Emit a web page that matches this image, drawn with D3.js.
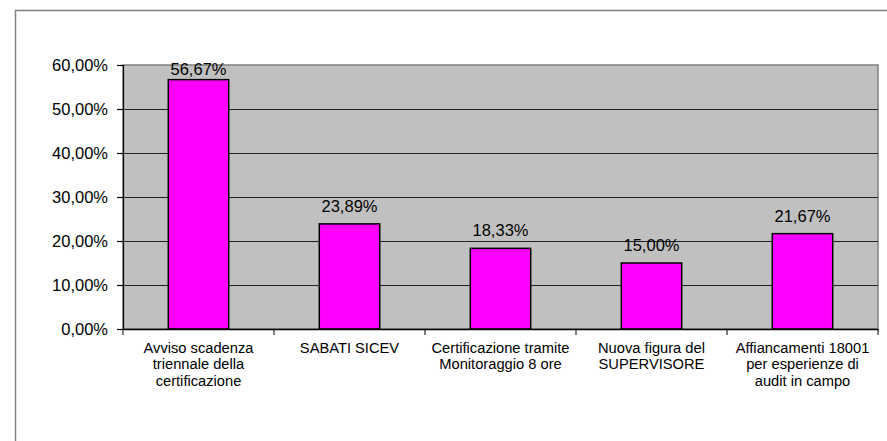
<!DOCTYPE html>
<html>
<head>
    <meta charset="utf-8">
    <title>Chart</title>
    <script src="https://d3js.org/d3.v7.min.js"></script>
    <style>
        body { margin: 0; background: #fff; }
        text { font-family: "Liberation Sans", Arial, sans-serif; fill: #000; }
    </style>
</head>
<body>
<div id="chart"></div>
<script type="text/javascript">

    // categorie (righe delle etichette)
    let categories = [
        ["Avviso scadenza", "triennale della", "certificazione"],
        ["SABATI SICEV"],
        ["Certificazione tramite", "Monitoraggio 8 ore"],
        ["Nuova figura del", "SUPERVISORE"],
        ["Affiancamenti 18001", "per esperienze di", "audit in campo"]
    ];
    let values = [56.67, 23.89, 18.33, 15.00, 21.67];
    let yTicks = [0, 10, 20, 30, 40, 50, 60];

    let W = 887, H = 441;
    let margin = {top: 65, right: 9, bottom: 112, left: 123};
    let w = W - margin.left - margin.right;
    let h = H - margin.top - margin.bottom;

    let fmt = function(v) { return v.toFixed(2).replace(".", ",") + "%"; };

    let svg = d3.select("#chart")
            .append("svg")
                .attr("width", W)
                .attr("height", H);

    // bordo esterno
    svg.append("rect")
        .attr("x", 15.5).attr("y", 10.5)
        .attr("width", 900).attr("height", 460)
        .attr("fill", "none")
        .attr("stroke", "#808080")
        .attr("stroke-width", 1.5);

    let g = svg.append("g")
        .attr("transform", "translate(" + margin.left + "," + margin.top + ")");

    let xScale = d3.scaleBand()
        .domain(d3.range(categories.length))
        .range([0, w]);

    let yScale = d3.scaleLinear()
        .domain([0, 60])
        .range([h, 0]);

    // area del grafico
    g.append("rect")
        .attr("width", w).attr("height", h)
        .attr("fill", "#c0c0c0")
        .attr("stroke", "#808080")
        .attr("stroke-width", 1.5);

    // griglia
    g.selectAll("line.grid")
        .data(yTicks.slice(1, -1))
        .enter()
        .append("line")
        .attr("class", "grid")
        .attr("x1", 0).attr("x2", w)
        .attr("y1", function(d) { return Math.round(yScale(d)) + 0.5; })
        .attr("y2", function(d) { return Math.round(yScale(d)) + 0.5; })
        .attr("stroke", "#222")
        .attr("stroke-width", 1.2);

    // barre
    let bw = xScale.bandwidth() * 0.4;
    g.selectAll("rect.bar")
        .data(values)
        .enter()
        .append("rect")
        .attr("class", "bar")
        .attr("x", function(d, i) { return xScale(i) + (xScale.bandwidth() - bw) / 2; })
        .attr("y", function(d) { return yScale(d); })
        .attr("width", bw)
        .attr("height", function(d) { return h - yScale(d); })
        .attr("fill", "#ff00ff")
        .attr("stroke", "#000")
        .attr("stroke-width", 1.5);

    // etichette valori (restano dentro l'area del grafico)
    g.selectAll("text.val")
        .data(values)
        .enter()
        .append("text")
        .attr("class", "val")
        .attr("x", function(d, i) { return xScale(i) + xScale.bandwidth() / 2; })
        .attr("y", function(d) { return Math.max(yScale(d) - 12, 10); })
        .attr("text-anchor", "middle")
        .attr("font-size", "16.5px")
        .text(function(d) { return fmt(d); });

    // asse y
    let yAxis = d3.axisLeft(yScale)
        .tickValues(yTicks)
        .tickSize(6)
        .tickPadding(9)
        .tickFormat(function(d) { return fmt(d); });
    let ya = g.append("g").call(yAxis);
    ya.select(".domain").attr("stroke", "#000").attr("stroke-width", 1.2);
    ya.selectAll(".tick line").attr("stroke", "#000").attr("stroke-width", 1.2);
    ya.selectAll("text").attr("font-size", "16.5px").attr("font-family", "Liberation Sans, Arial, sans-serif");

    // asse x
    let xAxis = d3.axisBottom(xScale).tickSize(0).tickFormat("");
    let xa = g.append("g")
        .attr("transform", "translate(0," + h + ")")
        .call(xAxis);
    xa.select(".domain").attr("stroke", "#000").attr("stroke-width", 1.5);
    xa.selectAll(".tickmark")
        .data(d3.range(categories.length + 1))
        .enter()
        .append("line")
        .attr("x1", function(d) { return d * xScale.bandwidth(); })
        .attr("x2", function(d) { return d * xScale.bandwidth(); })
        .attr("y1", 0).attr("y2", 6)
        .attr("stroke", "#000");

    // etichette categorie
    categories.forEach(function(lines, i) {
        let t = g.append("text")
            .attr("x", xScale(i) + xScale.bandwidth() / 2)
            .attr("y", h + 24)
            .attr("text-anchor", "middle")
            .attr("font-size", "14.7px");
        lines.forEach(function(l, j) {
            t.append("tspan")
                .attr("x", xScale(i) + xScale.bandwidth() / 2)
                .attr("dy", j === 0 ? 0 : 16.3)
                .text(l);
        });
    });

</script>
</body>
</html>
